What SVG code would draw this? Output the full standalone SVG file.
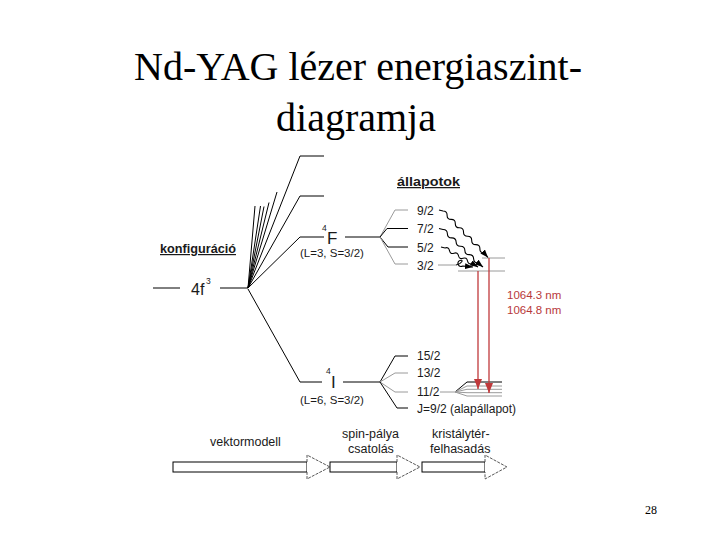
<svg xmlns="http://www.w3.org/2000/svg" width="720" height="540" viewBox="0 0 720 540">
<defs>
<style>
.s{font-family:"Liberation Sans",Arial,sans-serif;fill:#1a1a1a}
.tt{font-family:"Liberation Serif","Times New Roman",serif;fill:#000}
.b{font-weight:bold;text-decoration:underline}
.red{fill:#b8383a}
.k{stroke:#000;stroke-width:1;fill:none}
.g{stroke:#9a9a9a;stroke-width:1;fill:none}
.w{stroke:#000;stroke-width:1.1;fill:none}
.r{stroke:#c0393b;stroke-width:1.3;fill:none}
.ar{fill:#fff;stroke:#000;stroke-width:1}
.ah{fill:#fff;stroke:#444;stroke-width:0.9;stroke-dasharray:3 1.2}
</style>
<marker id="mk" markerUnits="userSpaceOnUse" markerWidth="8" markerHeight="6" refX="8" refY="3" orient="auto">
<path d="M0,0 L8,3 L0,6 z" fill="#000"/>
</marker>
<marker id="mr" markerUnits="userSpaceOnUse" markerWidth="10" markerHeight="8" refX="10" refY="4" orient="auto">
<path d="M0,0 L10,4 L0,8 z" fill="#c0393b"/>
</marker>
</defs>
<rect width="720" height="540" fill="#fff"/>

<g id="title">
<text class="tt" x="358" y="80" font-size="40" text-anchor="middle">Nd-YAG lézer energiaszint-</text>
<text class="tt" x="356" y="131" font-size="40" text-anchor="middle">diagramja</text>
</g>

<g id="connectors">
<path class="k" d="M248,288 L300,156 L324,156"/>
<path class="k" d="M248,288 L300,196 L324,196"/>
<path class="k" d="M248,288 L300,237 L324,237"/>
<path class="k" d="M248,288 L255,206 M248,288 L260.5,206 M248,288 L264,206.5 M248,288 L269,202.5 M248,288 L277,192"/>
<path class="k" d="M248,289 L300,382 L322,382"/>
<path class="k" d="M345,237 L380,237"/>
<path class="g" d="M380,237 L395,210 L408,210"/>
<path class="k" d="M380,237 L387,228.5 L408,228.5"/>
<path class="k" d="M380,237 L388,247 L408,247"/>
<path class="g" d="M380,237 L395,264 L408,264"/>
<path class="k" d="M343,382 L380,382"/>
<path class="k" d="M380,382 L395,356 L408,356"/>
<path class="g" d="M380,382 L395,373 L408,373"/>
<path class="g" d="M380,382 L395,392 L408,392"/>
<path class="k" d="M380,382 L397,408 L408,408"/>
<path class="g" d="M482,258 L505,258"/>
<path class="g" d="M458,271 L505,271"/>
<path class="g" d="M440,392 L455,392"/>
<path class="k" d="M455,392 L467,382 L502,382"/>
<path class="g" d="M455,392 L467,386 L502,386"/>
<path class="g" d="M455,392 L467,389.3 L502,389.3"/>
<path class="g" d="M455,392 L467,392.7 L502,392.7"/>
<path class="g" d="M455,392 L467,396 L502,396"/>
<path class="w" marker-end="url(#mk)" d="M439,210 L443,211 q4.2,0 4.1,4.2 q-0.1,4.2 4.1,4.2 q4.2,0 4.1,4.2 q-0.1,4.2 4.1,4.2 q4.2,0 4.1,4.2 q-0.1,4.2 4.1,4.2 q4.2,0 4.1,4.2 q-0.1,4.2 4.1,4.2 q4.2,0 4.1,4.2 q-0.1,4.2 4.1,4.2 L488,257.5"/>
<path class="w" marker-end="url(#mk)" d="M439,228.5 L443,229.5 q4.26,-0.08 4.375,4.19 q0.12,4.26 4.375,4.19 q4.26,-0.08 4.375,4.19 q0.12,4.26 4.375,4.19 q4.26,-0.08 4.375,4.19 q0.12,4.26 4.375,4.19 q4.26,-0.08 4.375,4.19 q0.12,4.26 4.375,4.19 L483,267"/>
<path class="w" marker-end="url(#mk)" d="M441,247 L445,248 q3.74,-1.31 4.5,2.58 q0.76,3.89 4.5,2.58 q3.74,-1.31 4.5,2.58 q0.76,3.89 4.5,2.58 q3.74,-1.31 4.5,2.58 q0.76,3.89 4.5,2.58 L478,267"/>
<path class="g" d="M438,265 L456,265"/>
<path class="w" marker-end="url(#mk)" d="M456,265 C462,264 464,259 460,260.5 C456,262 458,268 463,266 L473,267"/>
<path class="r" marker-end="url(#mr)" d="M478,271 L478,389"/>
<path class="r" marker-end="url(#mr)" d="M489,258 L489,393"/>
</g>

<g id="config">
<path class="k" d="M153,288 L180,288 M220,288 L248,288"/>
<text class="s" x="191" y="295" font-size="16">4f</text>
<text class="s" x="206" y="284" font-size="8.5">3</text>
<text class="s b" x="160" y="253" font-size="12" textLength="76" lengthAdjust="spacingAndGlyphs">konfiguráció</text>
</g>

<g id="term-4F">
<text class="s" x="322" y="231" font-size="8.5">4</text>
<text class="s" x="327" y="244" font-size="17">F</text>
<text class="s" x="300" y="257" font-size="11.5">(L=3, S=3/2)</text>
</g>

<g id="term-4I">
<text class="s" x="326" y="374" font-size="8.5">4</text>
<text class="s" x="331" y="388" font-size="17">I</text>
<text class="s" x="300" y="404" font-size="11.5">(L=6, S=3/2)</text>
</g>

<g id="states">
<text class="s b" x="397" y="186" font-size="12.5" textLength="63" lengthAdjust="spacingAndGlyphs">állapotok</text>
<text class="s" x="417" y="215" font-size="12">9/2</text>
<text class="s" x="417" y="233" font-size="12">7/2</text>
<text class="s" x="417" y="251.5" font-size="12">5/2</text>
<text class="s" x="417" y="269.5" font-size="12">3/2</text>
<text class="s" x="417" y="360" font-size="12">15/2</text>
<text class="s" x="417" y="377" font-size="12">13/2</text>
<text class="s" x="417" y="396" font-size="12">11/2</text>
<text class="s" x="417" y="413" font-size="12">J=9/2 (alapállapot)</text>
</g>

<g id="wavelengths">
<text class="s red" x="507" y="299" font-size="11.5">1064.3 nm</text>
<text class="s red" x="507" y="314" font-size="11.5">1064.8 nm</text>
</g>

<g id="arrow-vektormodell">
<rect class="ar" x="173" y="462" width="134" height="10"/>
<path class="ah" d="M307,462 L307,455 L330,467 L307,479 L307,472"/>
<text class="s" x="210" y="446" font-size="12.5">vektormodell</text>
</g>
<g id="arrow-spin">
<rect class="ar" x="330" y="462" width="67" height="10"/>
<path class="ah" d="M397,462 L397,455 L420,467 L397,479 L397,472"/>
<text class="s" x="342" y="438" font-size="12.5">spin-pálya</text>
<text class="s" x="348" y="453" font-size="12.5">csatolás</text>
</g>
<g id="arrow-kristaly">
<rect class="ar" x="422" y="462" width="63" height="10"/>
<path class="ah" d="M485,462 L485,455 L507,467 L485,479 L485,472"/>
<text class="s" x="432" y="438" font-size="12.5">kristálytér-</text>
<text class="s" x="430" y="453" font-size="12.5">felhasadás</text>
</g>

<g id="page">
<text class="tt" x="645" y="514" font-size="12">28</text>
</g>
</svg>
